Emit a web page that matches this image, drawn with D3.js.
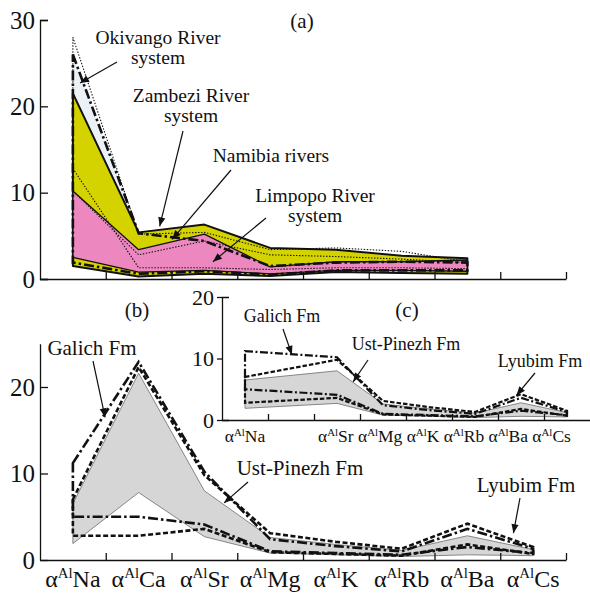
<!DOCTYPE html>
<html>
<head>
<meta charset="utf-8">
<script src="https://cdn.jsdelivr.net/npm/d3@7"></script>
<style>
  body { margin: 0; background: #fff; }
  svg { display: block; }
  text { font-family: "Liberation Serif", "Times New Roman", serif; fill: #111; }
</style>
</head>
<body>
<svg id="chart" width="590" height="595"></svg>
<script>
// Element categories (aluminium-normalised enrichment factors)
const ELEMENTS = ["Na", "Ca", "Sr", "Mg", "K", "Rb", "Ba", "Cs"];
const A_TICKS = [0, 10, 20, 30];
const B_TICKS = [0, 10, 20];
const C_TICKS = [0, 10, 20];

// (a) African river systems, first seven elements
const okavangoHi = [26.0, 5.3, 4.4, 1.5, 1.9, 2.0, 1.9];
const okavangoLo = [1.9, 0.6, 0.9, 0.5, 1.0, 1.0, 1.0];
const zambeziHi  = [21.5, 5.4, 6.3, 3.6, 3.4, 2.7, 2.4];
const zambeziLo  = [1.5, 0.3, 0.6, 0.35, 0.8, 0.7, 0.6];
const namibiaHi  = [10.2, 3.4, 5.2, 1.4, 2.0, 2.0, 2.2];
const namibiaLo  = [2.5, 0.8, 1.0, 0.6, 1.0, 1.0, 0.9];
const limpopoHi  = [28.0, 5.2, 5.4, 3.4, 3.6, 3.2, 2.0];
const limpopoLo  = [12.8, 1.3, 1.3, 1.1, 1.3, 1.3, 1.2];
const limpopoMid = [10.2, 2.8, 4.4, 2.8, 2.6, 2.3, 1.9];

// (b), (c) formations, all eight elements
const galichHi    = [11.2, 22.9, 10.2, 2.4, 1.6, 1.0, 3.6, 1.3];
const galichLo    = [5.0, 5.0, 4.1, 1.0, 0.8, 0.6, 1.5, 0.8];
const ustPinezhHi = [7.0, 22.3, 9.8, 3.1, 2.1, 1.3, 4.2, 1.5];
const ustPinezhLo = [2.8, 2.8, 3.6, 0.9, 0.7, 0.5, 1.8, 0.7];
const lyubimHi    = [6.5, 21.6, 8.0, 2.6, 1.8, 1.1, 2.8, 1.2];
const lyubimLo    = [1.9, 7.8, 2.7, 0.8, 0.6, 0.4, 0.6, 0.5];

const svg = d3.select("#chart");
svg.append("rect").attr("width", 590).attr("height", 595).attr("fill", "#fff");

const defs = svg.append("defs");
defs.append("marker")
  .attr("id", "arrow").attr("viewBox", "0 0 10 10")
  .attr("refX", 10).attr("refY", 5)
  .attr("markerWidth", 11).attr("markerHeight", 9)
  .attr("markerUnits", "userSpaceOnUse").attr("orient", "auto")
  .append("path").attr("d", "M0,1 L10,5 L0,9 Z").attr("fill", "#111");

// closed envelope: upper series left-to-right, lower series back
function envelopePath(x, y, idx, hi, lo) {
  const top = hi.map((v, i) => [x(idx[i] + 0.5), y(v)]);
  const bot = lo.map((v, i) => [x(idx[i] + 0.5), y(v)]).reverse();
  return d3.line()(top.concat(bot)) + "Z";
}
function linePath(x, y, idx, vals) {
  return d3.line()(vals.map((v, i) => [x(idx[i] + 0.5), y(v)]));
}
function styleAxis(g, size) {
  g.selectAll("path, line").attr("stroke", "#111").attr("stroke-width", 1.3);
  g.selectAll("text").style("font-size", size + "px").attr("fill", "#111");
}
function chemLabel(t, el, size) {
  t.append("tspan").text("α");
  t.append("tspan").attr("font-size", size * 0.62).attr("dy", -size * 0.36).text("Al");
  t.append("tspan").attr("font-size", size).attr("dy", size * 0.36).text(el);
}
function note(lines, cx, y0, lh, size, tip, from) {
  const t = svg.append("text").attr("text-anchor", "middle").style("font-size", size + "px");
  lines.forEach((s, i) => t.append("tspan").attr("x", cx).attr("y", y0 + i * lh).text(s));
  if (tip) {
    svg.append("line")
      .attr("x1", from[0]).attr("y1", from[1]).attr("x2", tip[0]).attr("y2", tip[1])
      .attr("stroke", "#111").attr("stroke-width", 1.2).attr("marker-end", "url(#arrow)");
  }
}

const DASHDOT = "10,3,2.5,3";
const SHORTDASH = "5,2.5";
const DOTTED = "1.4,1.6";

// ---------- panel (a) ----------
const xA = d3.scaleLinear().domain([0, 8]).range([40, 566]);
const yA = d3.scaleLinear().domain([0, 30]).range([279, 20]);
const idxA = d3.range(7);
const gA = svg.append("g");

gA.append("path").attr("d", envelopePath(xA, yA, idxA, okavangoHi, okavangoLo))
  .attr("fill", "#eaf1f7").attr("stroke", "none");
gA.append("path").attr("d", envelopePath(xA, yA, idxA, zambeziHi, zambeziLo))
  .attr("fill", "#d4d300").attr("stroke", "#111").attr("stroke-width", 2).attr("stroke-linejoin", "round");
gA.append("path").attr("d", envelopePath(xA, yA, idxA, namibiaHi, namibiaLo))
  .attr("fill", "#ec88bf").attr("stroke", "#111").attr("stroke-width", 1.3).attr("stroke-linejoin", "round");
gA.append("path").attr("d", envelopePath(xA, yA, idxA, limpopoHi, limpopoLo))
  .attr("fill", "none").attr("stroke", "#111").attr("stroke-width", 1.1).attr("stroke-dasharray", DOTTED);
gA.append("path").attr("d", linePath(xA, yA, idxA, limpopoMid))
  .attr("fill", "none").attr("stroke", "#111").attr("stroke-width", 1.1).attr("stroke-dasharray", DOTTED);
gA.append("path").attr("d", envelopePath(xA, yA, idxA, okavangoHi, okavangoLo))
  .attr("fill", "none").attr("stroke", "#111").attr("stroke-width", 2.6).attr("stroke-dasharray", DASHDOT);

const axAy = svg.append("g").attr("transform", "translate(40,0)")
  .call(d3.axisLeft(yA).tickValues(A_TICKS).tickSizeInner(-8).tickSizeOuter(-8).tickPadding(5));
styleAxis(axAy, 25);
const axAx = svg.append("g").attr("transform", "translate(0,279)")
  .call(d3.axisBottom(xA).tickValues(d3.range(1, 9)).tickSizeInner(-7).tickSizeOuter(0).tickFormat(""));
styleAxis(axAx, 20);

svg.append("text").attr("x", 302).attr("y", 28).attr("text-anchor", "middle").style("font-size", "21px").text("(a)");
note(["Okivango River", "system"], 158, 44, 20, 19.5, [xA(0.61), yA(22.7)], [117, 62]);
note(["Zambezi River", "system"], 191, 102, 20, 19.5, [xA(1.82), yA(6.1)], [183, 131]);
note(["Namibia rivers"], 271, 162, 0, 19.5, [xA(2.01), yA(4.6)], [231, 170]);
note(["Limpopo River", "system"], 315, 202, 20, 19.5, [xA(2.63), yA(2.0)], [266, 218]);

// ---------- panel (b) ----------
const xB = d3.scaleLinear().domain([0, 8]).range([40, 566]);
const yB = d3.scaleLinear().domain([0, 25]).range([560, 343.75]);
const idxB = d3.range(8);
const gB = svg.append("g");

gB.append("path").attr("d", envelopePath(xB, yB, idxB, lyubimHi, lyubimLo))
  .attr("fill", "#d6d6d6").attr("stroke", "#7a7a7a").attr("stroke-width", 0.9);
gB.append("path").attr("d", envelopePath(xB, yB, idxB, ustPinezhHi, ustPinezhLo))
  .attr("fill", "none").attr("stroke", "#111").attr("stroke-width", 2.6).attr("stroke-dasharray", SHORTDASH);
gB.append("path").attr("d", envelopePath(xB, yB, idxB, galichHi, galichLo))
  .attr("fill", "none").attr("stroke", "#111").attr("stroke-width", 2.6).attr("stroke-dasharray", DASHDOT);

const axBy = svg.append("g").attr("transform", "translate(40,0)")
  .call(d3.axisLeft(yB).tickValues(B_TICKS).tickSizeInner(-8).tickSizeOuter(0).tickPadding(5));
styleAxis(axBy, 25);
const axBx = svg.append("g").attr("transform", "translate(0,560)")
  .call(d3.axisBottom(xB).tickValues(d3.range(1, 9)).tickSizeInner(-7).tickSizeOuter(0).tickFormat(""));
styleAxis(axBx, 20);

ELEMENTS.forEach((el, i) => {
  const t = svg.append("text").attr("x", xB(i + 0.5)).attr("y", 587)
    .attr("text-anchor", "middle").style("font-size", "24px");
  chemLabel(t, el, 24);
});

svg.append("text").attr("x", 137).attr("y", 317).attr("text-anchor", "middle").style("font-size", "21px").text("(b)");
note(["Galich Fm"], 92, 355, 0, 21, [xB(0.99), yB(16.5)], [93, 361]);
note(["Ust-Pinezh Fm"], 300, 475, 0, 21, [xB(2.8), yB(6.6)], [248, 482]);
note(["Lyubim Fm"], 526, 492, 0, 21, [xB(7.2), yB(3.1)], [520, 498]);

// ---------- panel (c): same formations without Ca ----------
const xC = d3.scaleLinear().domain([0, 8]).range([222, 590]);
const yC = d3.scaleLinear().domain([0, 20]).range([420, 297]);
const idxC = [0, 2, 3, 4, 5, 6, 7];
const noCa = arr => arr.filter((_, i) => i !== 1);
const gC = svg.append("g");

gC.append("path").attr("d", envelopePath(xC, yC, idxC, noCa(lyubimHi), noCa(lyubimLo)))
  .attr("fill", "#d6d6d6").attr("stroke", "#7a7a7a").attr("stroke-width", 0.9);
gC.append("path").attr("d", envelopePath(xC, yC, idxC, noCa(ustPinezhHi), noCa(ustPinezhLo)))
  .attr("fill", "none").attr("stroke", "#111").attr("stroke-width", 2.2).attr("stroke-dasharray", "4.5,2");
gC.append("path").attr("d", envelopePath(xC, yC, idxC, noCa(galichHi), noCa(galichLo)))
  .attr("fill", "none").attr("stroke", "#111").attr("stroke-width", 2.2).attr("stroke-dasharray", "8,2.5,2,2.5");

const axCy = svg.append("g").attr("transform", "translate(222,0)")
  .call(d3.axisLeft(yC).tickValues(C_TICKS).tickSizeInner(5).tickSizeOuter(-7).tickPadding(3));
styleAxis(axCy, 22);
const axCx = svg.append("g").attr("transform", "translate(0,420)")
  .call(d3.axisBottom(xC).tickValues(d3.range(1, 8)).tickSizeInner(-6).tickSizeOuter(0).tickFormat(""));
styleAxis(axCx, 16);

{
  const t = svg.append("text").attr("x", xC(0.5)).attr("y", 442)
    .attr("text-anchor", "middle").style("font-size", "17.5px");
  chemLabel(t, ELEMENTS[0], 17.5);
  const rest = svg.append("text").attr("x", 318).attr("y", 442).style("font-size", "17.5px");
  ELEMENTS.slice(2).forEach((el, i) => {
    if (i > 0) rest.append("tspan").text(" ");
    chemLabel(rest, el, 17.5);
  });
}

svg.append("text").attr("x", 407).attr("y", 317).attr("text-anchor", "middle").style("font-size", "21px").text("(c)");
note(["Galich Fm"], 282, 322, 0, 18, [xC(1.52), yC(10.6)], [283, 329]);
note(["Ust-Pinezh Fm"], 406, 350, 0, 18, [xC(2.85), yC(6.2)], [368, 360]);
note(["Lyubim Fm"], 540, 367, 0, 18, [xC(6.4), yC(4.0)], [535, 373]);
</script>
</body>
</html>
